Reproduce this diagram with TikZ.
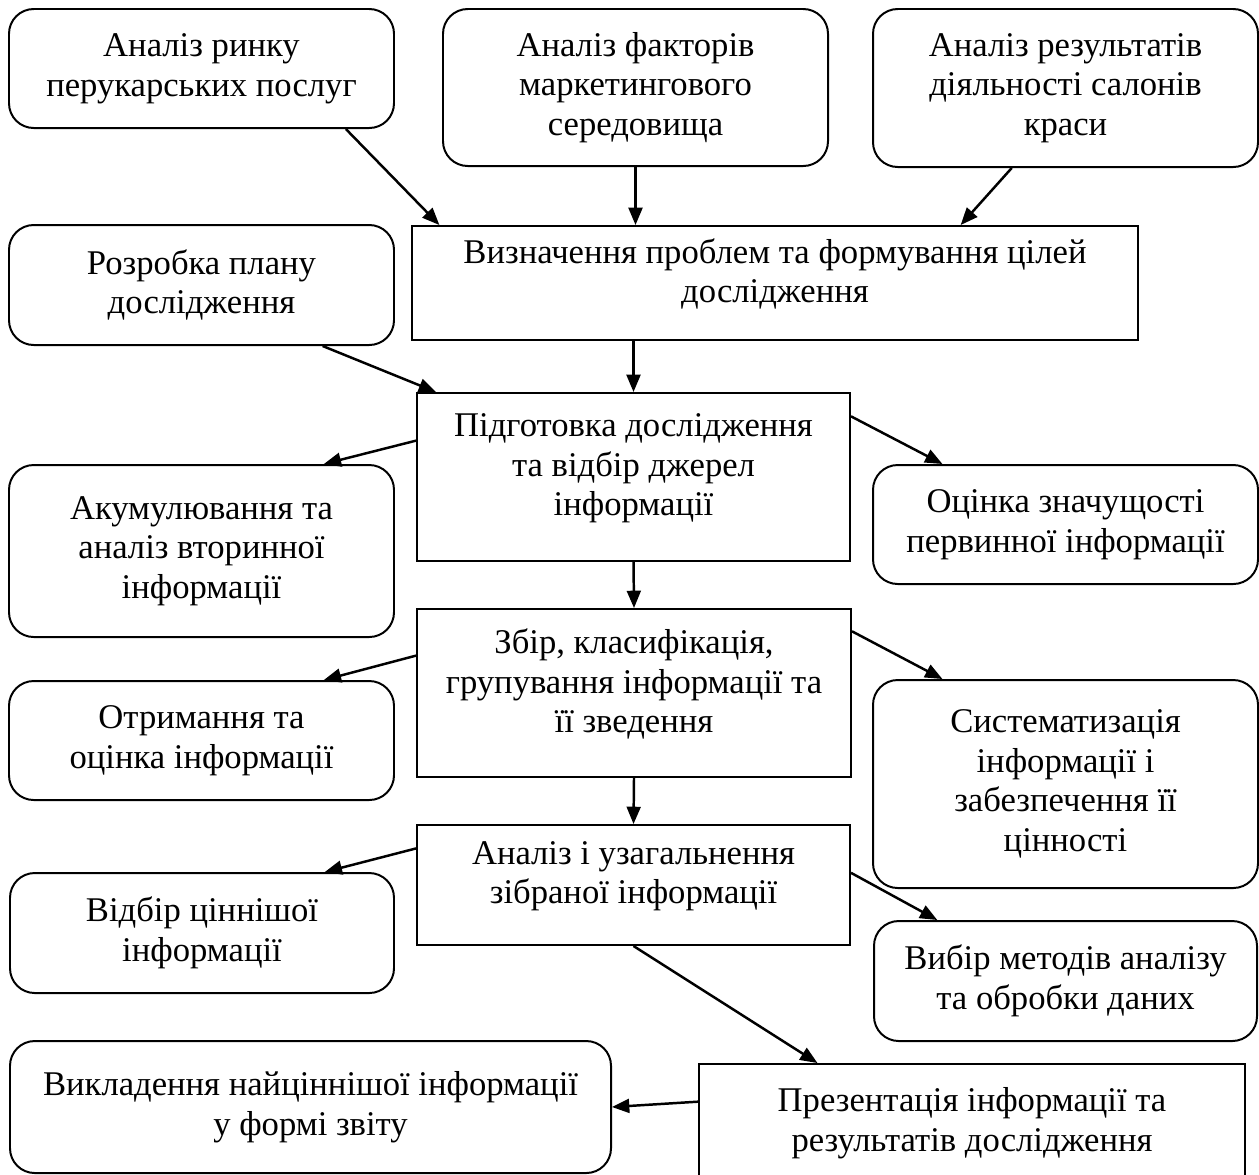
\documentclass[tikz,border=0pt]{standalone}
\usepackage{fontspec}
\setmainfont{Liberation Serif}
\usetikzlibrary{arrows.meta,calc}
\tikzset{
    rbox/.style={draw, rounded corners=10pt, align=center, line width=0.8pt, inner sep=2pt, font=\fontsize{14}{16}\selectfont},
    sbox/.style={rbox, sharp corners, text depth=10pt},
    sz/.style 2 args={minimum width=#1*0.0142cm, minimum height=#2*0.0142cm},
    arr/.style={-{Triangle[length=7pt,width=5.6pt]}, line width=1pt}}

\begin{document}
\begin{tikzpicture}[x=0.0142cm, y=-0.0142cm]
\path[use as bounding box, clip] (0,0) rectangle (1259,1174);

% top row
\node[rbox, sz={385}{119}] (an1) at (201.5,68.5) {Аналіз ринку\\перукарських послуг};
\node[rbox, sz={385}{157}] (an2) at (635.5,87.5) {Аналіз факторів\\маркетингового\\середовища};
\node[rbox, sz={385}{158}] (an3) at (1065.5,88) {Аналіз результатів\\діяльності салонів\\краси};

\node[rbox, sz={385}{120}] (plan) at (201.5,285) {Розробка плану\\дослідження};
\node[sbox, sz={726}{114}] (goal) at (775,283) {Визначення проблем та формування цілей\\дослідження};

% middle column
\node[sbox, sz={433}{168}] (prep) at (633.5,477) {Підготовка дослідження\\та відбір джерел\\інформації};
\node[sbox, sz={434}{168}] (coll) at (634,693) {Збір, класифікація,\\групування інформації та\\її зведення};
\node[sbox, sz={433}{120}] (anal) at (633.5,885) {Аналіз і узагальнення\\зібраної інформації};
\node[sbox, sz={546}{136}] (pres) at (972,1132) {Презентація інформації та\\результатів дослідження};

% left column
\node[rbox, sz={385}{172}] (acc) at (201.5,551) {Акумулювання та\\аналіз вторинної\\інформації};
\node[rbox, sz={385}{119}] (recv) at (201.5,740.5) {Отримання та\\оцінка інформації};
\node[rbox, sz={384}{120}] (sel) at (202,933) {Відбір ціннішої\\інформації};
\node[rbox, sz={601}{132}] (rep) at (310.5,1107) {Викладення найціннішої інформації\\у формі звіту};

% right column
\node[rbox, sz={385}{119}] (prim) at (1065.5,524.5) {Оцінка значущості\\первинної інформації};
\node[rbox, sz={385}{208}] (syst) at (1065.5,784) {Систематизація\\інформації і\\забезпечення її\\цінності};
\node[rbox, sz={383}{120}] (meth) at (1065.5,981) {Вибір методів аналізу\\та обробки даних};

% arrow ends
\coordinate (s1) at ($(an1.south west)!0.873!(an1.south east)$);
\coordinate (e1) at ($(goal.north west)!0.039!(goal.north east)$);
\coordinate (s3) at ($(an3.south west)!0.361!(an3.south east)$);
\coordinate (e3) at ($(goal.north west)!0.755!(goal.north east)$);
\coordinate (s4) at ($(plan.south west)!0.813!(plan.south east)$);
\coordinate (e4) at ($(prep.north west)!0.046!(prep.north east)$);
\coordinate (s5) at ($(prep.north west)!0.286!(prep.south west)$);
\coordinate (e5) at ($(acc.north west)!0.816!(acc.north east)$);
\coordinate (s6) at ($(prep.north east)!0.143!(prep.south east)$);
\coordinate (e6) at ($(prim.north west)!0.182!(prim.north east)$);
\coordinate (s7) at ($(coll.north west)!0.28!(coll.south west)$);
\coordinate (e7) at ($(recv.north west)!0.816!(recv.north east)$);
\coordinate (s8) at ($(coll.north east)!0.137!(coll.south east)$);
\coordinate (e8) at ($(syst.north west)!0.182!(syst.north east)$);
\coordinate (s9) at ($(anal.north west)!0.2!(anal.south west)$);
\coordinate (e9) at ($(sel.north west)!0.818!(sel.north east)$);
\coordinate (s10) at ($(anal.north east)!0.4!(anal.south east)$);
\coordinate (e10) at ($(meth.north west)!0.167!(meth.north east)$);
\coordinate (e11) at ($(pres.north west)!0.218!(pres.north east)$);
\coordinate (s12) at ($(pres.north west)!0.28!(pres.south west)$);

\draw[arr] (s1) -- (e1);
\draw[arr] (an2.south) -- (an2.south |- goal.north);
\draw[arr] (s3) -- (e3);
\draw[arr] (prep.north |- goal.south) -- (prep.north);
\draw[arr] (s4) -- (e4);
\draw[arr] (s5) -- (e5);
\draw[arr] (s6) -- (e6);
\draw[arr] (prep.south) -- (coll.north);
\draw[arr] (s7) -- (e7);
\draw[arr] (s8) -- (e8);
\draw[arr] (coll.south) -- (anal.north);
\draw[arr] (s9) -- (e9);
\draw[arr] (s10) -- (e10);
\draw[arr] (anal.south) -- (e11);
\draw[arr] (s12) -- (rep.east);
\end{tikzpicture}
\end{document}
